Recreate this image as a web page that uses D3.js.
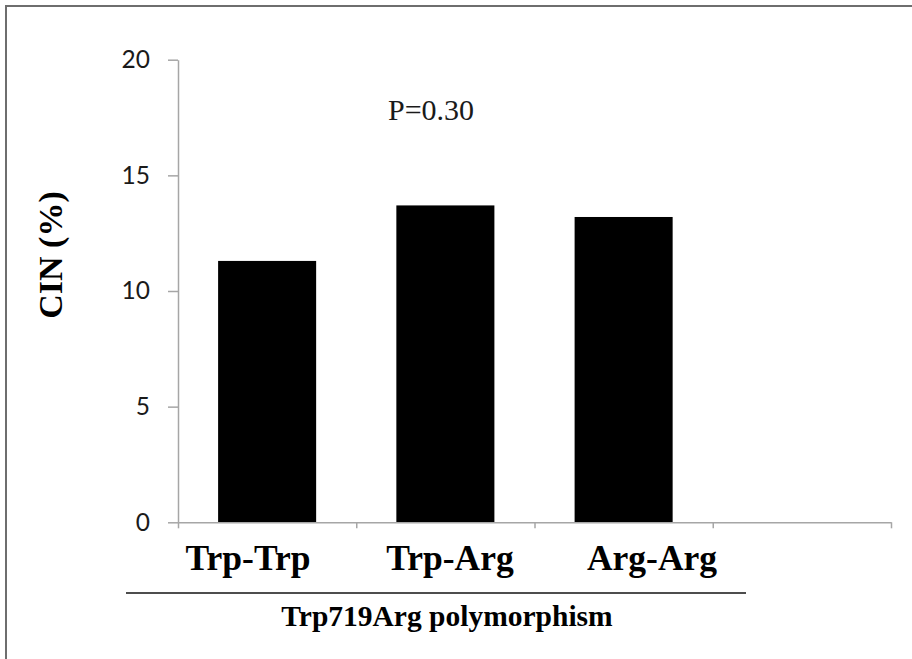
<!DOCTYPE html>
<html>
<head>
<meta charset="utf-8">
<script src="https://cdn.jsdelivr.net/npm/d3@7/dist/d3.min.js"></script>
<style>
  html, body { margin: 0; padding: 0; background: #ffffff; }
  svg { display: block; }
</style>
</head>
<body>
<svg id="chart" width="912" height="659"></svg>
<script>
// ---- data ----
const categories = ["Trp-Trp", "Trp-Arg", "Arg-Arg"];
const cinValues = [11.3, 13.7, 13.2];
const axisSlots = ["Trp-Trp", "Trp-Arg", "Arg-Arg", ""];   // 4th (empty) category slot on the x axis
const yTicks = [0, 5, 10, 15, 20];
const yTitle = "CIN (%)";
const xTitle = "Trp719Arg polymorphism";
const pLabel = "P=0.30";

// ---- layout ----
const svg = d3.select("#chart");
const plot = { left: 178, right: 891, top: 59.7, bottom: 522.3 };

// frame (cropped on right & bottom)
svg.append("rect")
  .attr("x", 6).attr("y", 6).attr("width", 1000).attr("height", 1000)
  .attr("fill", "none").attr("stroke", "#6e6e6e").attr("stroke-width", 2);

const y = d3.scaleLinear().domain([0, 20]).range([plot.bottom, plot.top]);
const x = d3.scaleBand().domain(axisSlots).range([plot.left, plot.right])
  .paddingInner(0.45).paddingOuter(0.225);
const xBound = d3.scaleLinear().domain([0, axisSlots.length]).range([plot.left, plot.right]);

// bars
const data = categories.map((c, i) => ({ cat: c, v: cinValues[i] }));
svg.append("g").selectAll("rect").data(data).join("rect")
  .attr("x", d => x(d.cat))
  .attr("y", d => y(d.v))
  .attr("width", x.bandwidth())
  .attr("height", d => y(0) - y(d.v))
  .attr("fill", "#000");

// y axis
const yAxis = svg.append("g")
  .attr("transform", `translate(${plot.left},0)`)
  .call(d3.axisLeft(y).tickValues(yTicks).tickSize(10).tickSizeOuter(0).tickPadding(18));
yAxis.select(".domain").attr("stroke", "#a6a6a6").attr("stroke-width", 1.5);
yAxis.selectAll(".tick line").attr("stroke", "#a6a6a6").attr("stroke-width", 1.5);
yAxis.selectAll(".tick text")
  .attr("fill", "#1a1a1a")
  .style("font-family", "Lato, 'Open Sans', sans-serif")
  .style("font-size", "24.5px");

// x axis (category boundaries)
const xAxis = svg.append("g")
  .attr("transform", `translate(0,${plot.bottom})`)
  .call(d3.axisBottom(xBound).tickValues(d3.range(axisSlots.length + 1)).tickFormat("")
    .tickSize(6).tickSizeOuter(0));
xAxis.select(".domain").attr("stroke", "#a6a6a6").attr("stroke-width", 1.5);
xAxis.selectAll(".tick line").attr("stroke", "#a6a6a6").attr("stroke-width", 1.5);

// category labels (placed as in the figure)
const labelX = d3.scalePoint().domain(categories).range([248, 652]);
svg.append("g").selectAll("text").data(categories).join("text")
  .attr("x", d => labelX(d))
  .attr("y", 570)
  .attr("text-anchor", "middle")
  .style("font-family", "'Liberation Serif', 'Times New Roman', serif")
  .style("font-weight", "bold")
  .style("font-size", "35.5px")
  .attr("fill", "#000")
  .text(d => d);

// separator line
svg.append("line")
  .attr("x1", 126).attr("x2", 746).attr("y1", 593).attr("y2", 593)
  .attr("stroke", "#4d4d4d").attr("stroke-width", 2);

// x title
svg.append("text")
  .attr("x", 447).attr("y", 626)
  .attr("text-anchor", "middle")
  .style("font-family", "'Liberation Serif', 'Times New Roman', serif")
  .style("font-weight", "bold")
  .style("font-size", "29.5px")
  .attr("fill", "#000")
  .text(xTitle);

// y title
svg.append("text")
  .attr("transform", "translate(62,255) rotate(-90)")
  .attr("text-anchor", "middle")
  .style("font-family", "'Liberation Serif', 'Times New Roman', serif")
  .style("font-weight", "bold")
  .style("font-size", "34px")
  .attr("fill", "#000")
  .text(yTitle);

// p value annotation
svg.append("text")
  .attr("x", 388).attr("y", 120)
  .style("font-family", "'Liberation Serif', 'Times New Roman', serif")
  .style("font-size", "30px")
  .attr("fill", "#1a1a1a")
  .text(pLabel);
</script>
</body>
</html>
